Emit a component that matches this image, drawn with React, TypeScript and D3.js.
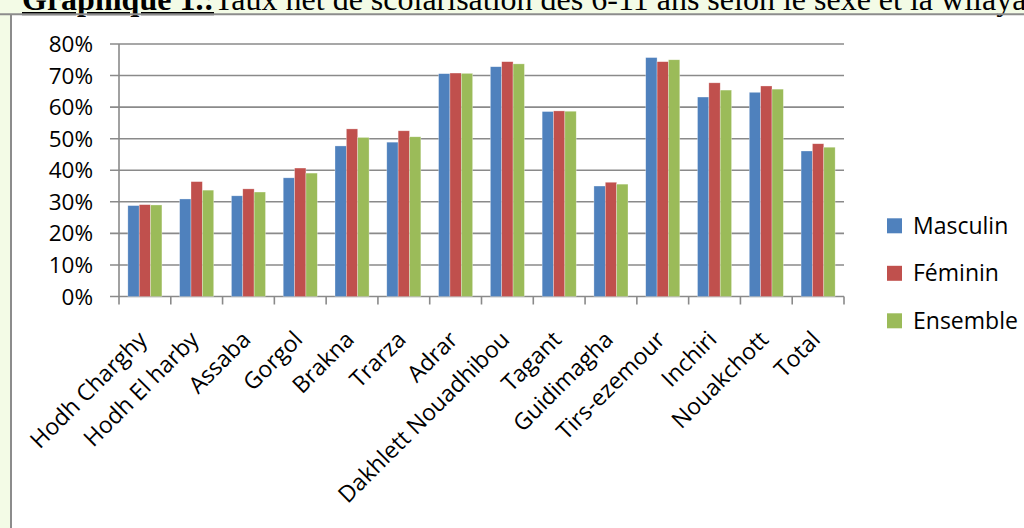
import React from "react";
import * as d3 from "d3";

const categories = [
  "Hodh Charghy",
  "Hodh El harby",
  "Assaba",
  "Gorgol",
  "Brakna",
  "Trarza",
  "Adrar",
  "Dakhlett Nouadhibou",
  "Tagant",
  "Guidimagha",
  "Tirs-ezemour",
  "Inchiri",
  "Nouakchott",
  "Total",
];

const seriesNames = ["Masculin", "Féminin", "Ensemble"];
const seriesColors = ["#4f81bd", "#c0504d", "#9bbb59"];

const masculin = [0.288, 0.309, 0.319, 0.376, 0.477, 0.489, 0.706, 0.728, 0.586, 0.35, 0.757, 0.632, 0.647, 0.461];
const feminin = [0.291, 0.364, 0.341, 0.407, 0.531, 0.525, 0.708, 0.744, 0.588, 0.362, 0.744, 0.677, 0.667, 0.484];
const ensemble = [0.29, 0.337, 0.331, 0.391, 0.504, 0.506, 0.707, 0.737, 0.587, 0.356, 0.75, 0.654, 0.657, 0.473];

const yTicks = [0, 0.1, 0.2, 0.3, 0.4, 0.5, 0.6, 0.7, 0.8];

const titleBold = "Graphique 1.:";
const titleRest = "Taux net de scolarisation des 6-11 ans selon le sexe et la wilaya";

export default function App() {
  const W = 1024;
  const H = 528;
  const left = 119;
  const right = 844;
  const top = 44;
  const bottom = 296.5;

  const values = [masculin, feminin, ensemble];

  const x0 = d3.scaleBand<string>().domain(categories).range([left, right]).paddingInner(0).paddingOuter(0);
  const x1 = d3
    .scaleBand<string>()
    .domain(seriesNames)
    .range([0, x0.bandwidth()])
    .paddingInner(0)
    .paddingOuter(0.78);
  const y = d3.scaleLinear().domain([0, 0.8]).range([bottom, top]);
  const fmt = d3.format(".0%");

  const grid = "#8a8a8a";
  const font = "'Open Sans', sans-serif";
  const bg = "#f3fbe6";

  const boundaries = d3.range(categories.length + 1).map((i) => left + i * x0.step());

  return (
    <svg
      width={W}
      height={H}
      style={{ position: "absolute", left: 0, top: 0, display: "block" }}
      xmlns="http://www.w3.org/2000/svg"
    >
      <rect x={0} y={0} width={W} height={H} fill={bg} />
      <rect x={11} y={14} width={W} height={H} fill="#ffffff" />
      {/* title */}
      <text x={22} y={10} fontFamily="'Liberation Serif', 'Times New Roman', serif" fontSize={32} fill="#000">
        <tspan fontWeight="bold" textDecoration="underline">{titleBold}</tspan>
        <tspan>{titleRest}</tspan>
      </text>
      <line x1={0} x2={W} y1={14.2} y2={14.2} stroke="#8c8c8c" strokeWidth={2} />
      <line x1={11} x2={11} y1={14} y2={H} stroke="#8c8c8c" strokeWidth={2} />

      {/* gridlines */}
      {yTicks.map((t) => (
        <line key={"g" + t} x1={110} x2={right} y1={y(t)} y2={y(t)} stroke={grid} strokeWidth={1.6} />
      ))}
      {/* y axis */}
      <line x1={left} x2={left} y1={top} y2={bottom} stroke={grid} strokeWidth={1.6} />
      {yTicks.map((t) => (
        <text
          key={"yl" + t}
          x={93}
          y={y(t) + 8}
          textAnchor="end"
          fontFamily={font}
          fontSize={22.5}
          fill="#000"
        >
          {fmt(t)}
        </text>
      ))}
      {/* x ticks */}
      {boundaries.map((b, i) => (
        <line key={"xt" + i} x1={b} x2={b} y1={bottom} y2={bottom + 8} stroke={grid} strokeWidth={1.6} />
      ))}

      {/* bars */}
      {categories.map((c, i) => (
        <g key={c} transform={`translate(${x0(c)},0)`}>
          {seriesNames.map((s, k) => {
            const v = values[k][i];
            return (
              <rect
                key={s}
                x={x1(s)}
                y={y(v)}
                width={x1.bandwidth()}
                height={bottom - y(v)}
                fill={seriesColors[k]}
                stroke="#ffffff"
                strokeOpacity={0.5}
                strokeWidth={0.6}
              />
            );
          })}
        </g>
      ))}

      {/* x labels */}
      {categories.map((c) => {
        const cx = (x0(c) as number) + x0.bandwidth() / 2 + 3.6;
        const cy = 341;
        return (
          <text
            key={"xl" + c}
            x={cx}
            y={cy}
            transform={`rotate(-45 ${cx} ${cy})`}
            textAnchor="end"
            fontFamily={font}
            fontSize={23}
            fill="#000"
          >
            {c}
          </text>
        );
      })}

      {/* legend */}
      {seriesNames.map((s, k) => {
        const ly = 218.3 + k * 47.5;
        return (
          <g key={"lg" + s}>
            <rect x={887} y={ly} width={15} height={15} fill={seriesColors[k]} />
            <text x={913} y={ly + 15.5} fontFamily={font} fontSize={23} fill="#000">
              {s}
            </text>
          </g>
        );
      })}
    </svg>
  );
}
